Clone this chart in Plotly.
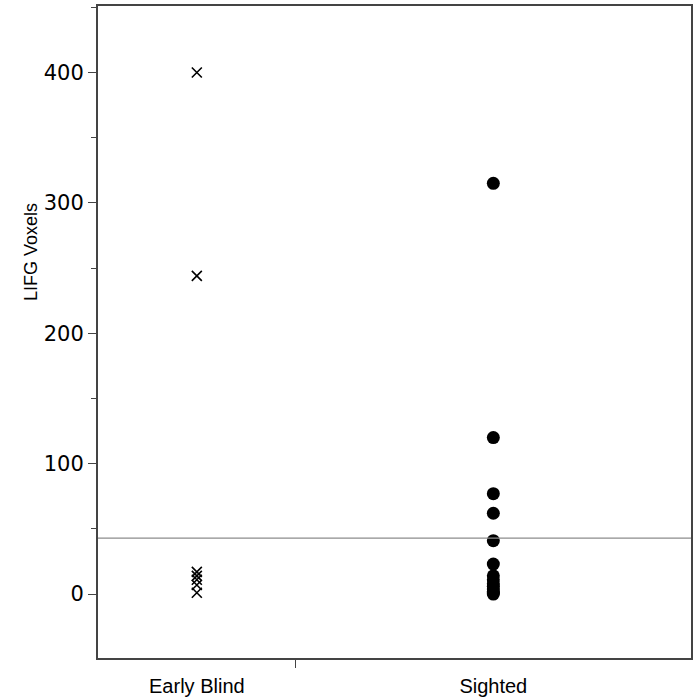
import plotly.graph_objects as go

# Data
groups = ["Early Blind", "Sighted"]
group_pos = [0.5, 2.0]          # category centres (JMP proportional widths)
group_boundary = [1.0]
early_blind = [400, 244, 17, 14, 11, 7, 1]
sighted = [315, 120, 77, 62, 41, 23, 14, 11, 8, 6, 4, 2, 1, 0]
reference_line = 43
y_ticks = [0, 100, 200, 300, 400]
y_minor = [-50, 50, 150, 250, 350, 450]
y_title = "LIFG Voxels"

fig = go.Figure()
fig.add_trace(go.Scatter(
    x=[group_pos[0]] * len(early_blind), y=early_blind, mode="markers",
    marker=dict(symbol="x-thin", size=10, color="black",
                line=dict(width=1.6, color="black")),
    showlegend=False))
fig.add_trace(go.Scatter(
    x=[group_pos[1]] * len(sighted), y=sighted, mode="markers",
    marker=dict(symbol="circle", size=13, color="black"),
    showlegend=False))

fig.add_hline(y=reference_line, line=dict(color="#8c8c8c", width=1.2))

fig.add_annotation(text=y_title, textangle=-90, xref="paper", yref="paper",
                   x=-0.112, y=0.622, xanchor="center", yanchor="middle",
                   showarrow=False,
                   font=dict(family="Liberation Sans, Arial", size=18, color="black"))

fig.update_layout(
    width=694, height=700,
    margin=dict(l=98, r=1, t=6, b=42),
    paper_bgcolor="white", plot_bgcolor="white",
    xaxis=dict(range=[0, 3], tickmode="array", tickvals=group_pos, ticktext=groups,
               ticks="", showgrid=False, zeroline=False, ticklabelstandoff=9,
               showline=True, linecolor="#444", linewidth=2, mirror=True,
               tickfont=dict(family="Liberation Sans, Arial", size=20, color="black"),
               minor=dict(tickmode="array", tickvals=group_boundary, ticks="outside",
                          ticklen=8, tickcolor="#444", tickwidth=1, showgrid=False)),
    yaxis=dict(range=[-49, 451], tickmode="array", tickvals=y_ticks,
               ticks="outside", ticklen=8, tickcolor="#444", tickwidth=1,
               showgrid=False, zeroline=False,
               showline=True, linecolor="#444", linewidth=2, mirror=True,
               tickfont=dict(family="DejaVu Sans", size=21, color="black"),
               minor=dict(tickmode="array", tickvals=y_minor, ticks="outside",
                          ticklen=5, tickcolor="#444", tickwidth=1, showgrid=False)),
)

fig.write_html("out.html", config={"displayModeBar": False},
               post_script="document.body.style.margin='0';document.body.style.overflow='hidden';")
